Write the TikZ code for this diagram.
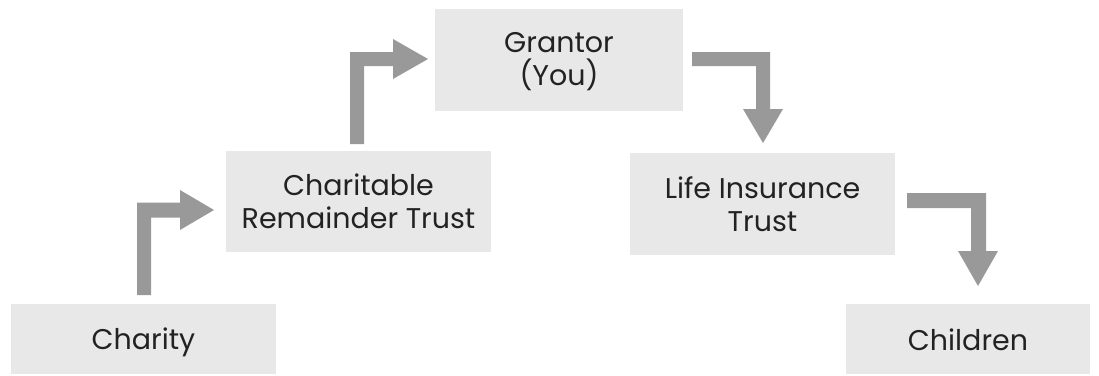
\documentclass[tikz,border=0pt]{standalone}
\usepackage{fontspec}
\setmainfont{Poppins}
\definecolor{boxfill}{HTML}{E8E8E8}
\definecolor{arrowgray}{HTML}{999999}
\definecolor{txt}{HTML}{222222}
\begin{document}
\begin{tikzpicture}[x=1pt,y=-1pt,
  box/.style={fill=boxfill,draw=none,inner sep=0pt,align=center,text=txt,
    font=\fontsize{28.5}{33}\selectfont},
  lbl/.style={inner sep=0pt,align=center,text=txt,font=\fontsize{28.5}{33}\selectfont},
  blockarrow/.style={fill=arrowgray,draw=none}]
\useasboundingbox (0,0) rectangle (1099,375);
\node[box,minimum width=265pt,minimum height=70pt] (charity) at (143.5,339) {};
\node[lbl] (charitytxt) at (143.5,342) {Charity};
\node[box,minimum width=265pt,minimum height=101pt] (crt) at (358.5,201.5) {Charitable\\Remainder Trust};
\node[box,minimum width=248pt,minimum height=102pt] (grantor) at (559,60) {};
\node[lbl] (grantortxt) at (559,62) {Grantor\\(You)};
\node[box,minimum width=265pt,minimum height=102pt] (lit) at (762.5,204) {Life Insurance\\Trust};
\node[box,minimum width=244pt,minimum height=70pt] (children) at (968,339) {};
\node[lbl] (childrentxt) at (968,340) {Children};
% block arrows
\fill[blockarrow] (137,295) -- (137,202.5) -- (180,202.5) -- (180,190) -- (214,210) -- (180,230) -- (180,217.5) -- (151,217.5) -- (151,295) -- cycle;
\fill[blockarrow] (350,144) -- (350,52) -- (393,52) -- (393,39) -- (428,59) -- (393,79) -- (393,66) -- (364,66) -- (364,144) -- cycle;
\fill[blockarrow] (692,52) -- (770,52) -- (770,109) -- (783,109) -- (763,143) -- (743,109) -- (756,109) -- (756,66) -- (692,66) -- cycle;
\fill[blockarrow] (907,193) -- (986,193) -- (986,251) -- (998,251) -- (978,286) -- (958,251) -- (971,251) -- (971,208) -- (907,208) -- cycle;
\end{tikzpicture}
\end{document}
